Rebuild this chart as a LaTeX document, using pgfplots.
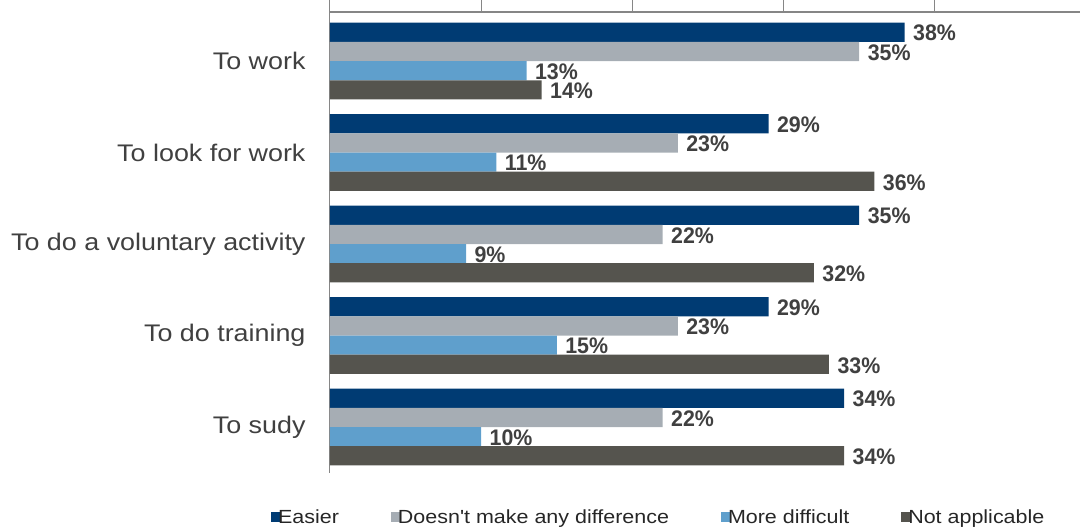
\documentclass[border=0pt]{standalone}
\usepackage{pgfplots}
\pgfplotsset{compat=1.18}
\usepackage{fontspec}
\setmainfont{Liberation Sans}
\newfontfamily\catfont[FakeStretch=1.12]{Liberation Sans}
\newfontfamily\labfont[FakeStretch=0.95]{Liberation Sans}
\newfontfamily\legfont[FakeStretch=1.13]{Liberation Sans}
\definecolor{cEasier}{RGB}{0,59,115}
\definecolor{cDiff}{RGB}{166,173,180}
\definecolor{cMore}{RGB}{95,159,204}
\definecolor{cNA}{RGB}{85,84,78}
\definecolor{axgray}{RGB}{134,134,134}
\definecolor{txt}{RGB}{64,64,64}
\begin{document}
\begin{tikzpicture}
\path[use as bounding box] (-330bp,-59.25bp) rectangle (750bp,472.75bp);
\begin{axis}[
  at={(0,0)}, anchor=south west,
  scale only axis,
  width=750bp, height=460.75bp,
  xbar=0pt,
  bar width=0.21,
  xmin=0, xmax=49.6,
  ymin=-0.536, ymax=4.5,
  y dir=reverse,
  axis x line*=top,
  axis y line*=left,
  axis line style={-},
  x axis line style={line width=2bp, draw=axgray, -},
  y axis line style={line width=1bp, draw=axgray, -},
  xtick={0,10,20,30,40},
  xticklabels={},
  tick align=outside,
  major tick length=12bp,
  xtick style={line width=1bp, draw=axgray},
  ytick={0,1,2,3,4},
  yticklabels={To work, To look for work, To do a voluntary activity, To do training, To sudy},
  ytick style={draw=none},
  yticklabel style={font=\catfont\fontsize{24bp}{28bp}\selectfont, text=txt, xshift=-9bp},
  nodes near coords={\pgfmathprintnumber[assume math mode=true]{\pgfplotspointmeta}\%},
  every node near coord/.append style={font=\labfont\bfseries\fontsize{22.5bp}{26bp}\selectfont, text=txt, xshift=5bp, yshift=-1bp, inner ysep=0pt},
  legend columns=4,
  legend style={draw=none, fill=none, at={(-0.0827,-0.096)}, anchor=west,
    font=\legfont\fontsize{19bp}{22bp}\selectfont, text=black!85,
    /tikz/every even column/.append style={column sep=50bp},
    /tikz/every odd column/.append style={column sep=-4bp}},
  legend image code/.code={\fill[#1] (0bp,-5bp) rectangle (9bp,5bp);},
]
\addplot[fill=cEasier, draw=none] coordinates {(38,0) (29,1) (35,2) (29,3) (34,4)};
\addplot[fill=cDiff, draw=none] coordinates {(35,0) (23,1) (22,2) (23,3) (22,4)};
\addplot[fill=cMore, draw=none] coordinates {(13,0) (11,1) (9,2) (15,3) (10,4)};
\addplot[fill=cNA, draw=none] coordinates {(14,0) (36,1) (32,2) (33,3) (34,4)};
\legend{Easier, Doesn't make any difference, More difficult, Not applicable}
\end{axis}
\end{tikzpicture}
\end{document}
